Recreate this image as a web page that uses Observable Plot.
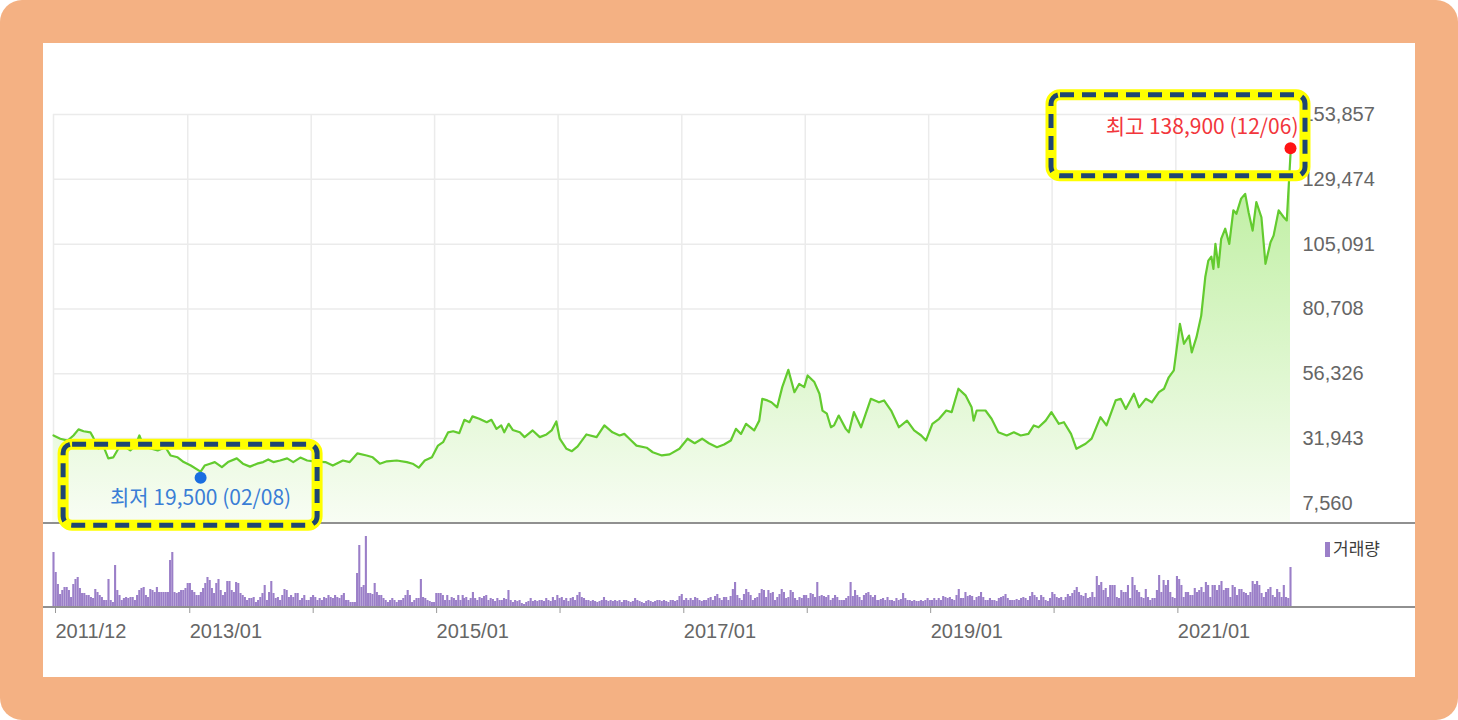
<!DOCTYPE html>
<html>
<head>
<meta charset="utf-8">
<script src="https://cdn.jsdelivr.net/npm/d3@7"></script>
<script src="https://cdn.jsdelivr.net/npm/@observablehq/plot@0.6"></script>
<style>
  body { margin: 0; background: #fff; }
  #frame { position: relative; width: 1458px; height: 720px; background: #f4b183; border-radius: 22px; overflow: hidden; }
  #panel { position: absolute; left: 43px; top: 43px; width: 1372px; height: 634px; background: #fff; }
  #vol { position: absolute; left: 0; top: 480px; }
  #price { position: absolute; left: 0; top: 0; z-index: 2; }
  #legend { position: absolute; left: 1282px; top: 492px; font: 17px "Noto Sans CJK KR", sans-serif; color: #3d3d3d; }
  #legend span { display: inline-block; width: 5px; height: 15px; background: #9b7fc8; margin-right: 3px; vertical-align: -2px; }
</style>
</head>
<body>
<div id="frame">
  <div id="panel">
    <div id="vol"></div>
    <div id="price"></div>
    <div id="legend"><span></span>거래량</div>
  </div>
</div>
<script>
// 가격 (종가) - 그림에서 읽은 값
const dates = [
  "2011-12-01","2011-12-21","2012-01-12","2012-01-29","2012-02-13","2012-02-28","2012-03-19","2012-03-27",
  "2012-04-12","2012-04-26","2012-05-11","2012-05-26","2012-06-10","2012-06-24","2012-07-15","2012-07-30",
  "2012-08-11","2012-08-23","2012-09-13","2012-10-04","2012-10-27","2012-11-11","2012-12-02","2012-12-20",
  "2013-01-10","2013-02-08","2013-02-20","2013-03-08","2013-03-22","2013-04-12","2013-04-30","2013-05-26",
  "2013-06-13","2013-07-04","2013-07-25","2013-08-12","2013-08-27","2013-09-11","2013-10-01","2013-10-22",
  "2013-11-09","2013-11-30","2013-12-20","2014-01-08","2014-02-12","2014-03-06","2014-04-05","2014-04-25",
  "2014-05-18","2014-06-14","2014-07-02","2014-07-23","2014-08-13","2014-09-11","2014-10-11","2014-10-28",
  "2014-11-15","2014-12-03","2014-12-24","2015-01-11","2015-01-26","2015-02-10","2015-02-25","2015-03-15",
  "2015-03-30","2015-04-14","2015-04-23","2015-05-13","2015-06-04","2015-06-18","2015-07-03","2015-07-17",
  "2015-07-26","2015-08-08","2015-08-20","2015-09-10","2015-09-24","2015-10-18","2015-11-08","2015-11-28",
  "2015-12-13","2015-12-27","2016-01-06","2016-01-26","2016-02-11","2016-02-28","2016-03-25","2016-04-24",
  "2016-05-17","2016-06-10","2016-07-01","2016-07-15","2016-07-30","2016-08-20","2016-09-19","2016-10-07",
  "2016-11-03","2016-11-26","2016-12-25","2017-01-18","2017-02-08","2017-03-02","2017-03-22","2017-04-15",
  "2017-05-06","2017-05-26","2017-06-10","2017-06-25","2017-07-10","2017-08-03","2017-08-18","2017-08-27",
  "2017-09-11","2017-09-23","2017-10-10","2017-10-25","2017-11-12","2017-11-30","2017-12-14","2017-12-29",
  "2018-01-08","2018-01-28","2018-02-12","2018-02-21","2018-03-06","2018-03-18","2018-03-27","2018-04-10",
  "2018-05-01","2018-05-10","2018-05-25","2018-06-15","2018-06-29","2018-07-14","2018-08-07","2018-08-22",
  "2018-09-12","2018-10-05","2018-10-29","2018-11-19","2018-12-10","2018-12-24","2019-01-12","2019-02-01",
  "2019-02-22","2019-03-10","2019-03-30","2019-04-20","2019-05-08","2019-05-14","2019-05-23","2019-06-18",
  "2019-07-06","2019-07-26","2019-08-20","2019-09-10","2019-09-30","2019-10-23","2019-11-08","2019-11-22",
  "2019-12-13","2019-12-30","2020-01-21","2020-02-05","2020-02-26","2020-03-13","2020-04-09","2020-04-27",
  "2020-05-23","2020-06-10","2020-07-07","2020-07-22","2020-08-06","2020-08-30","2020-09-14","2020-10-04",
  "2020-10-22","2020-11-12","2020-11-27","2020-12-11","2020-12-26","2021-01-02","2021-01-13","2021-01-25",
  "2021-02-09","2021-02-17","2021-03-03","2021-03-17","2021-03-29","2021-04-07","2021-04-16","2021-04-22",
  "2021-04-28","2021-05-07","2021-05-15","2021-05-27","2021-06-08","2021-06-20","2021-06-29","2021-07-13",
  "2021-07-25","2021-08-04","2021-08-16","2021-08-27","2021-09-11","2021-09-23","2021-10-08","2021-10-17",
  "2021-11-01","2021-11-16","2021-11-25","2021-12-06"
]
const prices = [
  33100,31900,31200,33100,35400,34700,34300,32500,
  28200,29300,24500,24900,28200,29300,27500,29300,
  33100,29300,28200,27500,28700,25600,24900,23100,
  21800,19500,21800,22500,23100,21200,23100,24500,
  22500,21400,22500,23100,24100,23100,23700,24500,
  23100,24800,23700,23400,23100,21800,23700,23100,
  26400,25600,24900,22500,23400,23700,23100,22500,
  21000,23700,24900,29300,30600,34300,34700,34000,
  39000,38100,40300,39400,38100,39000,35600,36900,
  34300,37500,35200,34300,32500,35000,32500,33500,
  35000,38400,31900,28100,27200,29000,33500,32500,
  36900,34300,33100,33700,31900,29300,28500,26800,
  25600,26000,28100,31900,30200,31900,30200,28700,
  29700,31200,35600,33700,37500,35000,38700,46900,
  46300,45600,43700,51300,57800,49400,52500,51300,
  55700,53200,48800,42500,41300,36200,36900,40600,
  35600,34300,41900,36200,41300,46900,45600,46300,
  42500,36200,38700,35000,33100,31200,37500,39400,
  42500,41900,50700,48200,43700,38700,42500,42500,
  39400,34300,33100,34300,33100,33700,36900,36200,
  38700,41900,37500,38100,33700,28100,30000,31900,
  40000,36900,46300,46900,43100,48800,43700,46900,
  45600,49400,50700,55000,57600,64400,75100,67600,
  70700,64400,70100,78200,92700,98900,100400,95800,
  105200,96400,107100,110900,105200,117800,116500,122200,
  124000,117100,110200,120900,115200,97700,105800,108300,
  117800,115200,114000,138900
]

// 거래량 (상대 높이) - 구간별로 읽은 값
const volA = [55,35,23,13,17,20,20,17,10,23,28,30,19,14,14,12,12,10,9,18,15,12,10,7,7,28,7,5,42,17,12,7,9,10,9,10,10,7,12,17,19,20,12,10,18,17,15,20,15,15,15,15,15,47,55,15,14,15,17,17,19,24,24,17,15,12,12,15,19,24,30,27,19,14,24,28,17,12,15,26,26,17,15,25,24,14,12,10,7,9,9,10,5,7,10,14,22,7,15,26,14,9,10,7,12,18,17,10,12,10,14,14,7,9,12,7,7,10,12,10,7,9,7,10,9,12,10,9,12,10,9,12,14,7,7,5,5,5,34,62,20,22,71,14,14,13,24,15,12,12,9,7,5,7,9,7,5,7,7,9,12,17,12,5,7,9,9,28,10,9,7,6,5,5,14,14,14,12,7,12,7,10,9,7,12,7,12]
const volB = [9,10,7,9,15,9,7,10,9,11,12,7,9,8,6,9,7,7,9,8,17,7,5,7,6,7,4,3,5,6,9,6,7,6,7,7,6,9,7,6,10,7,12,9,10,7,9,6,9,10,7,12,15,10,9,7,7,6,7,6,5,6,7,10,7,6,7,6,7,6,7,5,7,7,6,5,6,9,7,6,5,4,6,7,6,5,6,7,7,6,7,6,5,7,7,6,7,11,13,7,9,7,9,7,10,9,7,6,7,7,9,10,7,11,13,9,7,10,10,7,11,18,25,12,9,7,13,18,15,12,7,9,10,14,18,17,10,17,14,15,7,10,13,18,15,9,10,17,15,9,7,10,9,12,12,9,14,13,10,25,11,12,11,10,12,7,9,12,10,7,7,7,9,11,25,11,17,12,10,7,12,14,15,12,10,12,7]
const volC = [7,8,9,7,10,7,7,6,9,7,8,14,9,7,7,6,7,6,6,7,6,7,9,7,7,9,7,9,7,11,10,9,10,8,7,12,18,9,9,15,11,12,11,7,10,11,15,10,7,7,9,7,7,6,9,10,11,13,9,7,7,7,8,7,9,10,9,7,11,15,12,10,7,12,10,7,6,9,15,13,10,9,10,7,10,13,11,14,17,20,15,12,11,14,9,10,15,10,31,22,25,17,19,10,22,22,22,10,9,17,15,15,22,9,30,22,17,15,10,9,18,10,7,9,9,17,32,15,27,22,27,15,10,9,31,28,22,10,15,15,12,12,19,15,17,20,15,25,22,10,22,22,17,22,26,17,19,19,10,22,20,12,18,18,15,14,12,15,26,23,26,22,14,10,15,18,20,12,10,18,15,10,22,10,9,40]
const volRanges = [["2011-12-01","2015-03-25"],["2015-03-29","2018-08-02"],["2018-08-06","2021-12-06"]]

const yTicks = [7560, 31943, 56326, 80708, 105091, 129474, 153857]
const gridDates = ["2011-12-01","2013-01-01","2014-01-01","2015-01-01","2016-01-01","2017-01-01","2018-01-01","2019-01-01","2020-01-01","2021-01-01"]
const labeledDates = ["2011-12-01","2013-01-01","2015-01-01","2017-01-01","2019-01-01","2021-01-01"]
const xDomain = [new Date("2011-12-01"), new Date("2021-12-06")]

const cjk = "'Noto Sans CJK KR', sans-serif"
const latin = "'Liberation Sans', Arial, sans-serif"

let priceData = dates.map((d, i) => ({date: new Date(d), price: prices[i]}))

let volData = []
;[volA, volB, volC].forEach((vals, s) => {
  let t0 = +new Date(volRanges[s][0]), t1 = +new Date(volRanges[s][1])
  vals.forEach((v, i) => volData.push({date: new Date(t0 + i * (t1 - t0) / (vals.length - 1)), vol: v}))
})

// 최고 / 최저
let maxPt = d3.greatest(priceData, d => d.price)
let minPt = d3.least(priceData, d => d.price)
let fmtMD = d3.utcFormat("%m/%d")
maxPt = {...maxPt, label: `최고 ${d3.format(",")(maxPt.price)} (${fmtMD(maxPt.date)})`}
minPt = {...minPt, label: `최저 ${d3.format(",")(minPt.price)} (${fmtMD(minPt.date)})`}

let chart = Plot.plot({
  width: 1372,
  height: 480,
  marginTop: 71,
  marginBottom: 0,
  marginLeft: 10,
  marginRight: 125,
  style: {background: "transparent", overflow: "visible", fontFamily: latin},
  x: {type: "utc", domain: xDomain, axis: null},
  y: {domain: [0, 153857], axis: null},
  marks: [
    Plot.ruleY(yTicks, {stroke: "#ebebeb", strokeWidth: 1.5}),
    Plot.ruleX(gridDates.map(d => new Date(d)), {stroke: "#ebebeb", strokeWidth: 1.5}),
    Plot.areaY(priceData, {x: "date", y: "price", fill: "url(#priceFill)"}),
    Plot.lineY(priceData, {x: "date", y: "price", stroke: "#63cb2f", strokeWidth: 2.2}),
    Plot.axisY(yTicks, {anchor: "right", tickSize: 0, tickPadding: 12, tickFormat: d3.format(","),
      fontSize: 20, fill: "#666", label: null}),
    Plot.dot([maxPt], {x: "date", y: "price", r: 6, fill: "#ff1414", dy: -6}),
    Plot.text([maxPt], {x: "date", y: "price", text: "label", textAnchor: "end", dx: 8, dy: -27,
      fill: "#f2363c", fontSize: 21, fontFamily: cjk, letterSpacing: "0.7px"}),
    Plot.dot([minPt], {x: "date", y: "price", r: 6, fill: "#1a6ee0", dy: 6}),
    Plot.text([minPt], {x: "date", y: "price", text: "label", dy: 27,
      fill: "#3a7ed6", fontSize: 21, fontFamily: cjk, letterSpacing: "0.7px"})
  ]
})

let svg = d3.select(chart)
let grad = svg.append("defs").append("linearGradient")
  .attr("id", "priceFill").attr("x1", 0).attr("y1", 0).attr("x2", 0).attr("y2", 1)
grad.append("stop").attr("offset", 0).attr("stop-color", "#bbee9c")
grad.append("stop").attr("offset", 1).attr("stop-color", "#f8fdf4")

let y0 = chart.scale("y").apply(0)
svg.append("line").attr("x1", 0).attr("x2", 1372).attr("y1", y0).attr("y2", y0)
  .attr("stroke", "#909090").attr("stroke-width", 2)

// 강조 박스
let boxes = [
  {pt: maxPt, left: -239, right: 15, top: -59, bottom: 22},
  {pt: minPt, left: -137, right: 117, top: -27, bottom: 54}
]
boxes.forEach(b => {
  let px = chart.scale("x").apply(b.pt.date), py = chart.scale("y").apply(b.pt.price)
  ;[["#ffff00", 11, null], ["#1f4672", 5, "14 8"]].forEach(([c, w, dash]) => {
    svg.append("rect")
      .attr("x", px + b.left).attr("y", py + b.top)
      .attr("width", b.right - b.left).attr("height", b.bottom - b.top)
      .attr("rx", 9).attr("fill", "none")
      .attr("stroke", c).attr("stroke-width", w)
      .attr("stroke-dasharray", dash)
  })
})

d3.select('#price').append(() => chart)

// 거래량
let labeled = new Set(labeledDates.map(d => +new Date(d)))
let volChart = Plot.plot({
  width: 1372,
  height: 154,
  marginTop: 13,
  marginBottom: 70,
  marginLeft: 10,
  marginRight: 125,
  style: {background: "transparent", overflow: "visible", fontFamily: latin},
  x: {type: "utc", domain: xDomain, axis: null},
  y: {domain: [0, 71], axis: null},
  marks: [
    Plot.ruleX(volData, {x: "date", y1: 0, y2: "vol", stroke: "#9b7fc8", strokeWidth: 2.1}),
    Plot.axisX(gridDates.map(d => new Date(d)), {anchor: "bottom", tickSize: 6, tickPadding: 10,
      tickFormat: d => labeled.has(+d) ? d3.utcFormat("%Y/%m")(d) : "",
      textAnchor: "start", dx: 2, fontSize: 20, fill: "#666", stroke: "#999", label: null})
  ]
})
let vy0 = volChart.scale("y").apply(0)
d3.select(volChart).append("line").attr("x1", 0).attr("x2", 1372).attr("y1", vy0).attr("y2", vy0)
  .attr("stroke", "#909090").attr("stroke-width", 2)
d3.select('#vol').append(() => volChart)
</script>
</body>
</html>
